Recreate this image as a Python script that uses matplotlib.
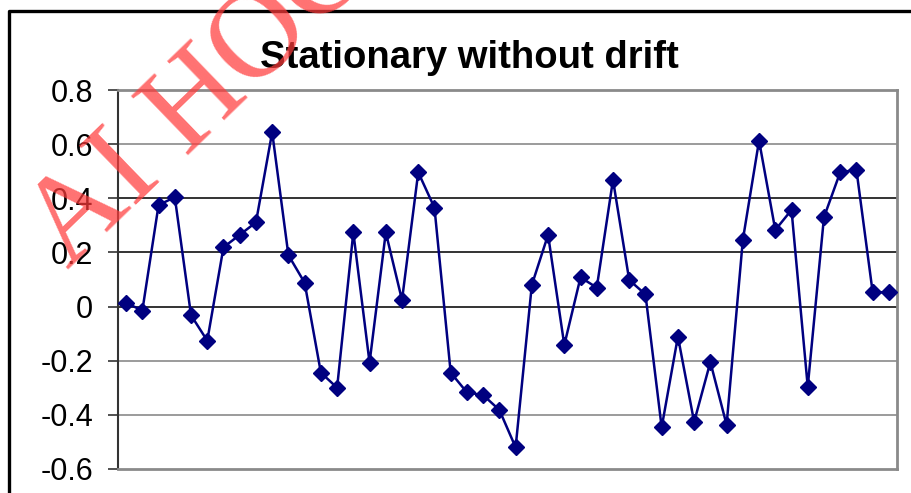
import numpy as np
import matplotlib.pyplot as plt
from matplotlib.lines import Line2D

# Series values, one per period
period = np.arange(1, 49)
values = [0.014, -0.015, 0.375, 0.404, -0.032, -0.126, 0.219, 0.265, 0.311, 0.644,
          0.190, 0.088, -0.244, -0.300, 0.274, -0.207, 0.274, 0.024, 0.496, 0.365,
          -0.244, -0.317, -0.327, -0.382, -0.520, 0.080, 0.265, -0.142, 0.108, 0.070,
          0.468, 0.098, 0.045, -0.446, -0.111, -0.426, -0.205, -0.437, 0.246, 0.613,
          0.283, 0.357, -0.296, 0.330, 0.496, 0.505, 0.053, 0.053]
yticks = [-0.6, -0.4, -0.2, 0, 0.2, 0.4, 0.6, 0.8]
ytick_labels = ["-0.6", "-0.4", "-0.2", "0", "0.2", "0.4", "0.6", "0.8"]

plt.rcParams['font.family'] = ['Liberation Sans', 'DejaVu Sans']

fig = plt.figure(figsize=(9.12, 4.93), dpi=100)
ax = fig.add_axes([118 / 912, 1 - 469 / 493, (897 - 118) / 912, (469 - 90) / 493])

# horizontal gridlines
grid_colors = {0.6: '#8a8a8a', 0.4: '#111111', 0.2: '#111111', 0: '#111111',
               -0.2: '#8a8a8a', -0.4: '#8a8a8a'}
for y, c in grid_colors.items():
    ax.axhline(y, color=c, lw=1.2, zorder=1)

ax.plot(period, values, color='#000080', lw=1.8, marker='D', markersize=8.5,
        markerfacecolor='#000080', markeredgecolor='#000080', zorder=3)

ax.set_xlim(0.5, 48.5)
ax.set_ylim(-0.6, 0.8)
ax.set_yticks(yticks)
ax.set_yticklabels(ytick_labels, fontsize=22)
ax.set_xticks([])
ax.tick_params(axis='y', length=7, width=1.2, color='#333333', pad=11)

for side in ['top', 'right', 'bottom']:
    ax.spines[side].set_color('#8a8a8a')
    ax.spines[side].set_linewidth(2)
ax.spines['left'].set_color('#333333')
ax.spines['left'].set_linewidth(1.5)

fig.text(469 / 912, 1 - 68 / 493, "Stationary without drift", fontsize=27.5,
         fontweight='bold', ha='center', va='baseline')

# outer chart frame (runs off the right and bottom edges)
fig.add_artist(Line2D([9 / 912, 9 / 912, 1.01], [-0.01, 1 - 11 / 493, 1 - 11 / 493],
                      transform=fig.transFigure, color='black', lw=2.4))

# watermark
fig.text(68 / 912, 1 - 270 / 493, "AI HOC", fontsize=90, family='Liberation Serif',
         color='#ff3b3b', alpha=0.72, rotation=44, ha='left', va='baseline',
         rotation_mode='anchor', zorder=10)

fig.savefig('out.png', dpi=100)
